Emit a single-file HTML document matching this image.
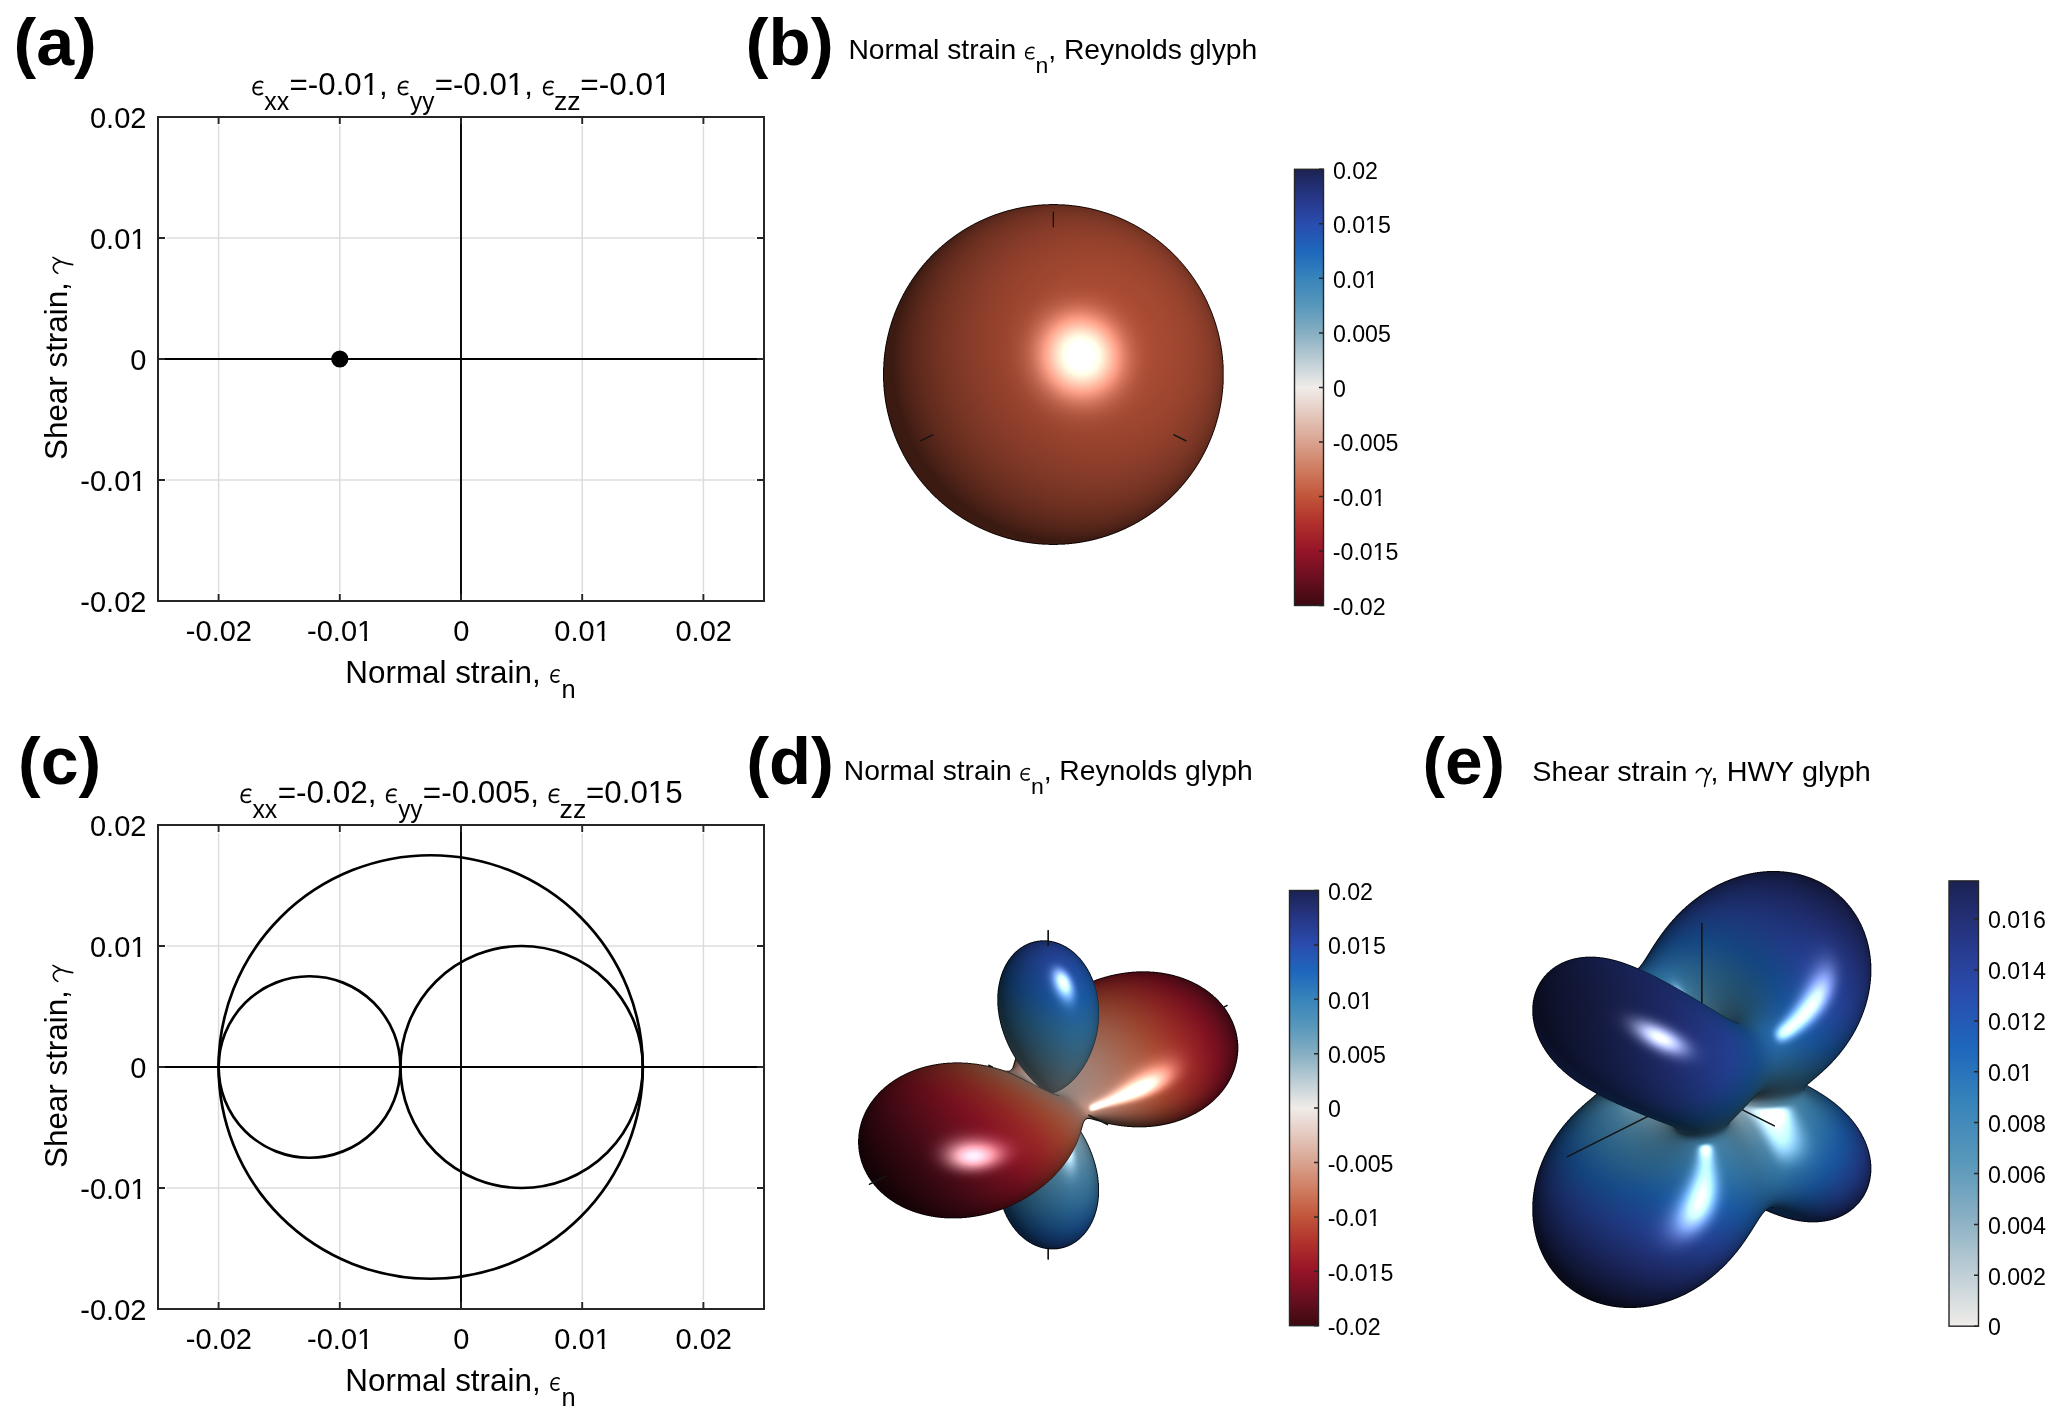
<!DOCTYPE html>
<html><head><meta charset="utf-8"><title>Mohr circles and strain glyphs</title>
<style>
html,body{margin:0;padding:0;background:#fff;}
body{width:2067px;height:1424px;position:relative;font-family:"Liberation Sans",sans-serif;}
svg.main{position:absolute;left:0;top:0;will-change:transform;}
canvas{position:absolute;}
.gr{stroke:#dcdcdc;stroke-width:1.5;fill:none}
.zl{stroke:#000;stroke-width:1.9;fill:none}
.mc{stroke:#000;stroke-width:2.7;fill:none}
.tk{stroke:#262626;stroke-width:1.9;fill:none}
.tk2{stroke:#262626;stroke-width:1.5;fill:none}
.bx{stroke:#262626;stroke-width:2;fill:none}
.cbx{stroke:#262626;stroke-width:1.4;fill:none}
text{font-family:"Liberation Sans",sans-serif;fill:#000;font-kerning:none}
.tl{font-size:29px}
.ep{font-family:"Liberation Serif",serif;font-style:italic}
.gl{fill:none;stroke:#000;vector-effect:non-scaling-stroke;stroke-linecap:round}
</style></head>
<body>
<svg class="main" width="2067" height="1424" viewBox="0 0 2067 1424">
<defs><linearGradient id="gb" x1="0" y1="0" x2="0" y2="1"><stop offset="0.0000" stop-color="#1b2252"/><stop offset="0.0625" stop-color="#263685"/><stop offset="0.1250" stop-color="#2a4cae"/><stop offset="0.1875" stop-color="#1e67bd"/><stop offset="0.2500" stop-color="#3884ba"/><stop offset="0.3125" stop-color="#5797bb"/><stop offset="0.3750" stop-color="#86aec2"/><stop offset="0.4375" stop-color="#bccdd5"/><stop offset="0.5000" stop-color="#f0ece9"/><stop offset="0.5625" stop-color="#e4c8bd"/><stop offset="0.6250" stop-color="#d9a390"/><stop offset="0.6875" stop-color="#cf7c60"/><stop offset="0.7500" stop-color="#c1553a"/><stop offset="0.8125" stop-color="#b02f2c"/><stop offset="0.8750" stop-color="#961427"/><stop offset="0.9375" stop-color="#6a0f20"/><stop offset="1.0000" stop-color="#3c0912"/></linearGradient><linearGradient id="ge" x1="0" y1="0" x2="0" y2="1"><stop offset="0.0000" stop-color="#1b2252"/><stop offset="0.1250" stop-color="#263685"/><stop offset="0.2500" stop-color="#2a4cae"/><stop offset="0.3750" stop-color="#1e67bd"/><stop offset="0.5000" stop-color="#3884ba"/><stop offset="0.6250" stop-color="#5797bb"/><stop offset="0.7500" stop-color="#86aec2"/><stop offset="0.8750" stop-color="#bccdd5"/><stop offset="1.0000" stop-color="#f0ece9"/></linearGradient></defs>
<rect width="2067" height="1424" fill="#fff"/>
<text x="13.51" y="65.00" font-size="67.5" font-weight="bold" textLength="83.29" lengthAdjust="spacingAndGlyphs">(a)</text>
<text x="745.56" y="64.80" font-size="67.5" font-weight="bold" textLength="88.18" lengthAdjust="spacingAndGlyphs">(b)</text>
<text x="18.11" y="784.00" font-size="67.5" font-weight="bold" textLength="83.18" lengthAdjust="spacingAndGlyphs">(c)</text>
<text x="746.17" y="784.00" font-size="67.5" font-weight="bold" textLength="87.85" lengthAdjust="spacingAndGlyphs">(d)</text>
<text x="1422.43" y="784.00" font-size="67.5" font-weight="bold" textLength="82.63" lengthAdjust="spacingAndGlyphs">(e)</text>
<line x1="218.6" y1="125.5" x2="218.6" y2="592.5" class="gr"/>
<line x1="339.8" y1="125.5" x2="339.8" y2="592.5" class="gr"/>
<line x1="582.2" y1="125.5" x2="582.2" y2="592.5" class="gr"/>
<line x1="703.4" y1="125.5" x2="703.4" y2="592.5" class="gr"/>
<line x1="166.5" y1="480.0" x2="755.5" y2="480.0" class="gr"/>
<line x1="166.5" y1="238.0" x2="755.5" y2="238.0" class="gr"/>
<line x1="158" y1="359.0" x2="764" y2="359.0" class="zl"/>
<line x1="461.0" y1="117" x2="461.0" y2="601" class="zl"/>
<circle cx="339.8" cy="359.0" r="8.6" fill="#000"/>
<path d="M218.6 601v-7M218.6 117v7M158 601.0h7M764 601.0h-7M339.8 601v-7M339.8 117v7M158 480.0h7M764 480.0h-7M461.0 601v-7M461.0 117v7M158 359.0h7M764 359.0h-7M582.2 601v-7M582.2 117v7M158 238.0h7M764 238.0h-7M703.4 601v-7M703.4 117v7M158 117.0h7M764 117.0h-7" class="tk"/>
<rect x="158" y="117" width="606" height="484" class="bx"/>
<text x="89.96" y="128.20" font-size="29">0.02</text>
<text x="89.96" y="249.20" font-size="29">0.01</text><rect x="131.83" y="245.38" width="5.62" height="4.53" fill="#fff"/><rect x="140.24" y="245.38" width="5.40" height="4.53" fill="#fff"/>
<text x="130.27" y="370.20" font-size="29">0</text>
<text x="80.30" y="491.20" font-size="29">-0.01</text><rect x="131.83" y="487.38" width="5.62" height="4.53" fill="#fff"/><rect x="140.24" y="487.38" width="5.40" height="4.53" fill="#fff"/>
<text x="80.30" y="612.20" font-size="29">-0.02</text>
<text x="185.85" y="641.10" font-size="29">-0.02</text>
<text x="307.05" y="641.10" font-size="29">-0.01</text><rect x="358.58" y="637.28" width="5.62" height="4.53" fill="#fff"/><rect x="366.99" y="637.28" width="5.40" height="4.53" fill="#fff"/>
<text x="453.24" y="641.10" font-size="29">0</text>
<text x="554.28" y="641.10" font-size="29">0.01</text><rect x="596.15" y="637.28" width="5.62" height="4.53" fill="#fff"/><rect x="604.56" y="637.28" width="5.40" height="4.53" fill="#fff"/>
<text x="675.48" y="641.10" font-size="29">0.02</text>
<text x="345.33" y="682.70" font-size="31.5" textLength="195.29" lengthAdjust="spacingAndGlyphs">Normal strain,</text>
<path d="M0.97,0.07 C0.78,-0.04 0.12,-0.02 0.03,0.5 C-0.03,0.92 0.5,1.06 0.95,0.87 M0.19,0.46 L0.85,0.46" transform="translate(550.80 669.70) scale(8.60 13.00)" class="gl" style="stroke-width:1.6px"/>
<text x="561.51" y="697.60" font-size="25" textLength="14.14" lengthAdjust="spacingAndGlyphs">n</text>
<g transform="translate(66.5 359) rotate(-90)"><text x="-100.92" y="0.00" font-size="31.5" textLength="177.74" lengthAdjust="spacingAndGlyphs">Shear strain,</text><path d="M0.013,0.246 C0.115,0.082 0.256,0.016 0.385,0.022 C0.577,0.033 0.692,0.191 0.731,0.399 M0.994,0.005 L0.744,0.383 C0.660,0.546 0.590,0.765 0.551,1.0" transform="translate(85.40 -13.60) scale(16.30 19.80)" class="gl" style="stroke-width:1.6px"/></g>
<line x1="218.6" y1="833.5" x2="218.6" y2="1300.5" class="gr"/>
<line x1="339.8" y1="833.5" x2="339.8" y2="1300.5" class="gr"/>
<line x1="582.2" y1="833.5" x2="582.2" y2="1300.5" class="gr"/>
<line x1="703.4" y1="833.5" x2="703.4" y2="1300.5" class="gr"/>
<line x1="166.5" y1="1188.0" x2="755.5" y2="1188.0" class="gr"/>
<line x1="166.5" y1="946.0" x2="755.5" y2="946.0" class="gr"/>
<line x1="158" y1="1067.0" x2="764" y2="1067.0" class="zl"/>
<line x1="461.0" y1="825" x2="461.0" y2="1309" class="zl"/>
<ellipse cx="430.70" cy="1067.00" rx="212.10" ry="211.75" class="mc"/>
<ellipse cx="309.50" cy="1067.00" rx="90.90" ry="90.75" class="mc"/>
<ellipse cx="521.60" cy="1067.00" rx="121.20" ry="121.00" class="mc"/>
<path d="M218.6 1309v-7M218.6 825v7M158 1309.0h7M764 1309.0h-7M339.8 1309v-7M339.8 825v7M158 1188.0h7M764 1188.0h-7M461.0 1309v-7M461.0 825v7M158 1067.0h7M764 1067.0h-7M582.2 1309v-7M582.2 825v7M158 946.0h7M764 946.0h-7M703.4 1309v-7M703.4 825v7M158 825.0h7M764 825.0h-7" class="tk"/>
<rect x="158" y="825" width="606" height="484" class="bx"/>
<text x="89.96" y="836.20" font-size="29">0.02</text>
<text x="89.96" y="957.20" font-size="29">0.01</text><rect x="131.83" y="953.38" width="5.62" height="4.53" fill="#fff"/><rect x="140.24" y="953.38" width="5.40" height="4.53" fill="#fff"/>
<text x="130.27" y="1078.20" font-size="29">0</text>
<text x="80.30" y="1199.20" font-size="29">-0.01</text><rect x="131.83" y="1195.38" width="5.62" height="4.53" fill="#fff"/><rect x="140.24" y="1195.38" width="5.40" height="4.53" fill="#fff"/>
<text x="80.30" y="1320.20" font-size="29">-0.02</text>
<text x="185.85" y="1349.10" font-size="29">-0.02</text>
<text x="307.05" y="1349.10" font-size="29">-0.01</text><rect x="358.58" y="1345.28" width="5.62" height="4.53" fill="#fff"/><rect x="366.99" y="1345.28" width="5.40" height="4.53" fill="#fff"/>
<text x="453.24" y="1349.10" font-size="29">0</text>
<text x="554.28" y="1349.10" font-size="29">0.01</text><rect x="596.15" y="1345.28" width="5.62" height="4.53" fill="#fff"/><rect x="604.56" y="1345.28" width="5.40" height="4.53" fill="#fff"/>
<text x="675.48" y="1349.10" font-size="29">0.02</text>
<text x="345.33" y="1390.70" font-size="31.5" textLength="195.29" lengthAdjust="spacingAndGlyphs">Normal strain,</text>
<path d="M0.97,0.07 C0.78,-0.04 0.12,-0.02 0.03,0.5 C-0.03,0.92 0.5,1.06 0.95,0.87 M0.19,0.46 L0.85,0.46" transform="translate(550.80 1377.70) scale(8.60 13.00)" class="gl" style="stroke-width:1.6px"/>
<text x="561.51" y="1405.60" font-size="25" textLength="14.14" lengthAdjust="spacingAndGlyphs">n</text>
<g transform="translate(66.5 1067) rotate(-90)"><text x="-100.92" y="0.00" font-size="31.5" textLength="177.74" lengthAdjust="spacingAndGlyphs">Shear strain,</text><path d="M0.013,0.246 C0.115,0.082 0.256,0.016 0.385,0.022 C0.577,0.033 0.692,0.191 0.731,0.399 M0.994,0.005 L0.744,0.383 C0.660,0.546 0.590,0.765 0.551,1.0" transform="translate(85.40 -13.60) scale(16.30 19.80)" class="gl" style="stroke-width:1.6px"/></g>
<path d="M0.97,0.07 C0.78,-0.04 0.12,-0.02 0.03,0.5 C-0.03,0.92 0.5,1.06 0.95,0.87 M0.19,0.46 L0.85,0.46" transform="translate(253.00 81.20) scale(9.90 14.00)" class="gl" style="stroke-width:1.85px"/>
<text x="264.32" y="110.10" font-size="25" textLength="24.85" lengthAdjust="spacingAndGlyphs">xx</text>
<text x="289.57" y="95.00" font-size="31.5" textLength="98.24" lengthAdjust="spacingAndGlyphs">=-0.01,</text><rect x="363.41" y="90.85" width="6.06" height="4.92" fill="#fff"/><rect x="372.48" y="90.85" width="5.82" height="4.92" fill="#fff"/>
<path d="M0.97,0.07 C0.78,-0.04 0.12,-0.02 0.03,0.5 C-0.03,0.92 0.5,1.06 0.95,0.87 M0.19,0.46 L0.85,0.46" transform="translate(398.30 81.20) scale(9.90 14.00)" class="gl" style="stroke-width:1.85px"/>
<text x="409.94" y="110.10" font-size="25" textLength="24.41" lengthAdjust="spacingAndGlyphs">yy</text>
<text x="434.67" y="95.00" font-size="31.5" textLength="98.24" lengthAdjust="spacingAndGlyphs">=-0.01,</text><rect x="508.51" y="90.85" width="6.06" height="4.92" fill="#fff"/><rect x="517.58" y="90.85" width="5.82" height="4.92" fill="#fff"/>
<path d="M0.97,0.07 C0.78,-0.04 0.12,-0.02 0.03,0.5 C-0.03,0.92 0.5,1.06 0.95,0.87 M0.19,0.46 L0.85,0.46" transform="translate(543.50 81.20) scale(9.90 14.00)" class="gl" style="stroke-width:1.85px"/>
<text x="553.92" y="110.10" font-size="25" textLength="26.71" lengthAdjust="spacingAndGlyphs">zz</text>
<text x="580.36" y="95.00" font-size="31.5" textLength="90.37" lengthAdjust="spacingAndGlyphs">=-0.01</text><rect x="654.87" y="90.85" width="6.12" height="4.92" fill="#fff"/><rect x="664.02" y="90.85" width="5.87" height="4.92" fill="#fff"/>
<path d="M0.97,0.07 C0.78,-0.04 0.12,-0.02 0.03,0.5 C-0.03,0.92 0.5,1.06 0.95,0.87 M0.19,0.46 L0.85,0.46" transform="translate(241.10 789.00) scale(9.90 14.00)" class="gl" style="stroke-width:1.85px"/>
<text x="252.42" y="817.90" font-size="25" textLength="24.85" lengthAdjust="spacingAndGlyphs">xx</text>
<text x="277.66" y="802.80" font-size="31.5" textLength="98.97" lengthAdjust="spacingAndGlyphs">=-0.02,</text>
<path d="M0.97,0.07 C0.78,-0.04 0.12,-0.02 0.03,0.5 C-0.03,0.92 0.5,1.06 0.95,0.87 M0.19,0.46 L0.85,0.46" transform="translate(386.50 789.00) scale(9.90 14.00)" class="gl" style="stroke-width:1.85px"/>
<text x="398.14" y="817.90" font-size="25" textLength="24.41" lengthAdjust="spacingAndGlyphs">yy</text>
<text x="422.87" y="802.80" font-size="31.5" textLength="116.16" lengthAdjust="spacingAndGlyphs">=-0.005,</text>
<path d="M0.97,0.07 C0.78,-0.04 0.12,-0.02 0.03,0.5 C-0.03,0.92 0.5,1.06 0.95,0.87 M0.19,0.46 L0.85,0.46" transform="translate(549.20 789.00) scale(9.90 14.00)" class="gl" style="stroke-width:1.85px"/>
<text x="559.62" y="817.90" font-size="25" textLength="26.71" lengthAdjust="spacingAndGlyphs">zz</text>
<text x="586.07" y="802.80" font-size="31.5" textLength="96.64" lengthAdjust="spacingAndGlyphs">=0.015</text><rect x="649.57" y="798.65" width="6.07" height="4.92" fill="#fff"/><rect x="658.65" y="798.65" width="5.83" height="4.92" fill="#fff"/>
<text x="848.38" y="59.10" font-size="28.5" textLength="167.95" lengthAdjust="spacingAndGlyphs">Normal strain</text>
<path d="M0.97,0.07 C0.78,-0.04 0.12,-0.02 0.03,0.5 C-0.03,0.92 0.5,1.06 0.95,0.87 M0.19,0.46 L0.85,0.46" transform="translate(1025.40 47.10) scale(9.00 12.30)" class="gl" style="stroke-width:1.45px"/>
<text x="1035.57" y="72.70" font-size="22" textLength="12.83" lengthAdjust="spacingAndGlyphs">n</text>
<text x="1048.34" y="59.10" font-size="28.5">,</text>
<text x="1063.88" y="59.10" font-size="28.5" textLength="193.36" lengthAdjust="spacingAndGlyphs">Reynolds glyph</text>
<text x="843.78" y="780.30" font-size="28.5" textLength="167.95" lengthAdjust="spacingAndGlyphs">Normal strain</text>
<path d="M0.97,0.07 C0.78,-0.04 0.12,-0.02 0.03,0.5 C-0.03,0.92 0.5,1.06 0.95,0.87 M0.19,0.46 L0.85,0.46" transform="translate(1020.80 768.30) scale(9.00 12.30)" class="gl" style="stroke-width:1.45px"/>
<text x="1030.97" y="793.90" font-size="22" textLength="12.83" lengthAdjust="spacingAndGlyphs">n</text>
<text x="1043.74" y="780.30" font-size="28.5">,</text>
<text x="1059.28" y="780.30" font-size="28.5" textLength="193.36" lengthAdjust="spacingAndGlyphs">Reynolds glyph</text>
<text x="1532.39" y="780.50" font-size="28.5" textLength="155.18" lengthAdjust="spacingAndGlyphs">Shear strain</text>
<path d="M0.013,0.246 C0.115,0.082 0.256,0.016 0.385,0.022 C0.577,0.033 0.692,0.191 0.731,0.399 M0.994,0.005 L0.744,0.383 C0.660,0.546 0.590,0.765 0.551,1.0" transform="translate(1696.10 768.20) scale(15.40 18.30)" class="gl" style="stroke-width:1.6px"/>
<text x="1710.54" y="780.50" font-size="28.5">,</text>
<text x="1726.84" y="780.50" font-size="28.5" textLength="143.93" lengthAdjust="spacingAndGlyphs">HWY glyph</text>
<rect x="1294.5" y="169.3" width="29.0" height="436.2" fill="url(#gb)"/>
<path d="M1323.5 169.3h-4.5M1323.5 223.8h-4.5M1323.5 278.3h-4.5M1323.5 332.9h-4.5M1323.5 387.4h-4.5M1323.5 441.9h-4.5M1323.5 496.4h-4.5M1323.5 551.0h-4.5M1323.5 605.5h-4.5" class="tk2"/>
<rect x="1294.5" y="169.3" width="29.0" height="436.2" class="cbx"/>
<text x="1332.89" y="178.50" font-size="23.2">0.02</text>
<text x="1332.89" y="233.02" font-size="23.2">0.015</text><rect x="1366.39" y="229.97" width="4.50" height="3.62" fill="#fff"/><rect x="1373.12" y="229.97" width="4.32" height="3.62" fill="#fff"/>
<text x="1332.89" y="287.55" font-size="23.2">0.01</text><rect x="1366.39" y="284.49" width="4.50" height="3.62" fill="#fff"/><rect x="1373.12" y="284.49" width="4.32" height="3.62" fill="#fff"/>
<text x="1332.89" y="342.07" font-size="23.2">0.005</text>
<text x="1332.89" y="396.60" font-size="23.2">0</text>
<text x="1332.77" y="451.12" font-size="23.2">-0.005</text>
<text x="1332.77" y="505.65" font-size="23.2">-0.01</text><rect x="1373.99" y="502.59" width="4.50" height="3.62" fill="#fff"/><rect x="1380.72" y="502.59" width="4.32" height="3.62" fill="#fff"/>
<text x="1332.77" y="560.17" font-size="23.2">-0.015</text><rect x="1373.99" y="557.12" width="4.50" height="3.62" fill="#fff"/><rect x="1380.72" y="557.12" width="4.32" height="3.62" fill="#fff"/>
<text x="1332.77" y="614.70" font-size="23.2">-0.02</text>
<rect x="1289.5" y="890.5" width="29.0" height="435.20000000000005" fill="url(#gb)"/>
<path d="M1318.5 890.5h-4.5M1318.5 944.9h-4.5M1318.5 999.3h-4.5M1318.5 1053.7h-4.5M1318.5 1108.1h-4.5M1318.5 1162.5h-4.5M1318.5 1216.9h-4.5M1318.5 1271.3h-4.5M1318.5 1325.7h-4.5" class="tk2"/>
<rect x="1289.5" y="890.5" width="29.0" height="435.20000000000005" class="cbx"/>
<text x="1327.89" y="899.70" font-size="23.2">0.02</text>
<text x="1327.89" y="954.10" font-size="23.2">0.015</text><rect x="1361.39" y="951.04" width="4.50" height="3.62" fill="#fff"/><rect x="1368.12" y="951.04" width="4.32" height="3.62" fill="#fff"/>
<text x="1327.89" y="1008.50" font-size="23.2">0.01</text><rect x="1361.39" y="1005.44" width="4.50" height="3.62" fill="#fff"/><rect x="1368.12" y="1005.44" width="4.32" height="3.62" fill="#fff"/>
<text x="1327.89" y="1062.90" font-size="23.2">0.005</text>
<text x="1327.89" y="1117.30" font-size="23.2">0</text>
<text x="1327.77" y="1171.70" font-size="23.2">-0.005</text>
<text x="1327.77" y="1226.10" font-size="23.2">-0.01</text><rect x="1368.99" y="1223.04" width="4.50" height="3.62" fill="#fff"/><rect x="1375.72" y="1223.04" width="4.32" height="3.62" fill="#fff"/>
<text x="1327.77" y="1280.50" font-size="23.2">-0.015</text><rect x="1368.99" y="1277.44" width="4.50" height="3.62" fill="#fff"/><rect x="1375.72" y="1277.44" width="4.32" height="3.62" fill="#fff"/>
<text x="1327.77" y="1334.90" font-size="23.2">-0.02</text>
<rect x="1949" y="880.9" width="29.5" height="445.30000000000007" fill="url(#ge)"/>
<path d="M1978.5 919.1h-4.5M1978.5 970.0h-4.5M1978.5 1020.9h-4.5M1978.5 1071.7h-4.5M1978.5 1122.6h-4.5M1978.5 1173.5h-4.5M1978.5 1224.4h-4.5M1978.5 1275.3h-4.5M1978.5 1326.2h-4.5" class="tk2"/>
<rect x="1949" y="880.9" width="29.5" height="445.30000000000007" class="cbx"/>
<text x="1987.89" y="928.27" font-size="23.2">0.016</text><rect x="2021.39" y="925.21" width="4.50" height="3.62" fill="#fff"/><rect x="2028.12" y="925.21" width="4.32" height="3.62" fill="#fff"/>
<text x="1987.89" y="979.16" font-size="23.2">0.014</text><rect x="2021.39" y="976.10" width="4.50" height="3.62" fill="#fff"/><rect x="2028.12" y="976.10" width="4.32" height="3.62" fill="#fff"/>
<text x="1987.89" y="1030.05" font-size="23.2">0.012</text><rect x="2021.39" y="1026.99" width="4.50" height="3.62" fill="#fff"/><rect x="2028.12" y="1026.99" width="4.32" height="3.62" fill="#fff"/>
<text x="1987.89" y="1080.94" font-size="23.2">0.01</text><rect x="2021.39" y="1077.88" width="4.50" height="3.62" fill="#fff"/><rect x="2028.12" y="1077.88" width="4.32" height="3.62" fill="#fff"/>
<text x="1987.89" y="1131.83" font-size="23.2">0.008</text>
<text x="1987.89" y="1182.73" font-size="23.2">0.006</text>
<text x="1987.89" y="1233.62" font-size="23.2">0.004</text>
<text x="1987.89" y="1284.51" font-size="23.2">0.002</text>
<text x="1987.89" y="1335.40" font-size="23.2">0</text>
<g id="fallback">
<defs>
<radialGradient id="fs" cx="0.58" cy="0.45" r="0.62" fx="0.58" fy="0.45"><stop offset="0" stop-color="#fff8f0"/><stop offset="0.1" stop-color="#f3b8a0"/><stop offset="0.22" stop-color="#aa5036"/><stop offset="0.6" stop-color="#8c3e2a"/><stop offset="1" stop-color="#3e1a10"/></radialGradient>
<radialGradient id="fr" cx="0.55" cy="0.55" r="0.6"><stop offset="0" stop-color="#e8b0b8"/><stop offset="0.25" stop-color="#8e1a26"/><stop offset="1" stop-color="#2a060c"/></radialGradient>
<radialGradient id="fr2" cx="0.3" cy="0.6" r="0.7"><stop offset="0" stop-color="#f0d8d0"/><stop offset="0.3" stop-color="#b0604a"/><stop offset="0.7" stop-color="#8a1a24"/><stop offset="1" stop-color="#3a0810"/></radialGradient>
<radialGradient id="fbl" cx="0.6" cy="0.35" r="0.65"><stop offset="0" stop-color="#c8f0ff"/><stop offset="0.15" stop-color="#2a64a8"/><stop offset="1" stop-color="#16305a"/></radialGradient>
<radialGradient id="fnv" cx="0.5" cy="0.45" r="0.6"><stop offset="0" stop-color="#c0c8f0"/><stop offset="0.15" stop-color="#24337a"/><stop offset="1" stop-color="#0e1436"/></radialGradient>
<radialGradient id="fnb" cx="0.55" cy="0.45" r="0.6"><stop offset="0" stop-color="#4a8ab8"/><stop offset="0.5" stop-color="#22489a"/><stop offset="1" stop-color="#101c48"/></radialGradient>
</defs>
<circle cx="1053.4" cy="374.5" r="170.4" fill="url(#fs)"/>
<ellipse cx="1050" cy="1185" rx="48" ry="64" fill="url(#fbl)"/>
<ellipse cx="1140" cy="1050" rx="100" ry="76" transform="rotate(-18 1140 1050)" fill="url(#fr2)"/>
<ellipse cx="1048" cy="1016" rx="50" ry="76" transform="rotate(-6 1048 1016)" fill="url(#fbl)"/>
<ellipse cx="962" cy="1140" rx="106" ry="76" transform="rotate(-18 962 1140)" fill="url(#fr)"/>
<ellipse cx="1770" cy="975" rx="100" ry="108" fill="url(#fnb)"/>
<ellipse cx="1790" cy="1160" rx="80" ry="62" fill="url(#fnb)"/>
<ellipse cx="1640" cy="1205" rx="108" ry="104" fill="url(#fnb)"/>
<ellipse cx="1645" cy="1052" rx="122" ry="60" transform="rotate(28 1645 1052)" fill="url(#fnv)"/>
</g>
</svg>
<canvas id="cvb" style="left:870px;top:190px;width:370px;height:370px"></canvas>
<canvas id="cvd" style="left:845px;top:920px;width:410px;height:350px"></canvas>
<canvas id="cve" style="left:1520px;top:860px;width:365px;height:460px"></canvas>
<script>
(function(){
var STOPS=[[0,[60,9,18]],[0.0625,[106,15,32]],[0.125,[150,20,39]],[0.1875,[176,47,44]],[0.25,[193,85,58]],[0.3125,[207,124,96]],[0.375,[217,163,144]],[0.4375,[228,200,189]],[0.5,[240,236,233]],[0.5625,[188,205,213]],[0.625,[134,174,194]],[0.6875,[87,151,187]],[0.75,[56,132,186]],[0.8125,[30,103,189]],[0.875,[42,76,174]],[0.9375,[38,54,133]],[1,[27,34,82]]];
function cmap(t){if(t<0)t=0;if(t>1)t=1;for(var i=1;i<STOPS.length;i++){if(t<=STOPS[i][0]){var a=STOPS[i-1],b=STOPS[i],f=(t-a[0])/(b[0]-a[0]);return [(a[1][0]+f*(b[1][0]-a[1][0]))/255,(a[1][1]+f*(b[1][1]-a[1][1]))/255,(a[1][2]+f*(b[1][2]-a[1][2]))/255];}}return [STOPS[16][1][0]/255,STOPS[16][1][1]/255,STOPS[16][1][2]/255];}
var az=-45*Math.PI/180, el=30*Math.PI/180;
var R=[Math.cos(az),Math.sin(az),0], U=[-Math.sin(el)*Math.sin(az),Math.sin(el)*Math.cos(az),Math.cos(el)], C=[Math.sin(az)*Math.cos(el),-Math.cos(az)*Math.cos(el),Math.sin(el)];
function dot(a,b){return a[0]*b[0]+a[1]*b[1]+a[2]*b[2];}
function norm(a){var l=Math.sqrt(dot(a,a))||1;return [a[0]/l,a[1]/l,a[2]/l];}
function glyph(o){
  var cv=document.getElementById(o.id); if(!cv||!cv.getContext)return;
  var W=o.w,H=o.h,SS=3,WS=W*SS,HS=H*SS;
  cv.width=W;cv.height=H;
  var ctx=cv.getContext('2d');
  var zb=new Float32Array(WS*HS); zb.fill(-1e30);
  var cb=new Float32Array(WS*HS*3);
  var lam=o.lam, L=norm(o.light), ka=0.3, kd=0.6, ks=0.9, sp=10;
  var NT=o.nt||200, NP=o.np||400;
  var nv=(NT+1)*(NP+1);
  var CR=new Float32Array(nv),CG=new Float32Array(nv),CB=new Float32Array(nv),X=new Float32Array(nv),Y=new Float32Array(nv),Z=new Float32Array(nv),NX=new Float32Array(nv),NY=new Float32Array(nv),NZ=new Float32Array(nv),VV=new Float32Array(nv);
  var ox=(o.ox-o.left)*SS, oy=(o.oy-o.top)*SS, s=o.s*SS;
  for(var i=0;i<=NT;i++){var th=Math.PI*i/NT, st=Math.sin(th), ct=Math.cos(th);
    for(var j=0;j<=NP;j++){var ph=2*Math.PI*j/NP;
      var n=[st*Math.cos(ph),st*Math.sin(ph),ct];
      var ln=[lam[0]*n[0],lam[1]*n[1],lam[2]*n[2]];
      var v=dot(n,ln), r, gr, val;
      if(o.type==='rey'){ r=Math.abs(v); var sg=v<0?-1:1; gr=[2*sg*ln[0],2*sg*ln[1],2*sg*ln[2]]; val=v; }
      else { var q=lam[0]*ln[0]*n[0]+lam[1]*ln[1]*n[1]+lam[2]*ln[2]*n[2]; var g2=q-v*v; if(g2<0)g2=0; r=Math.sqrt(g2); var gg=r>1e-9?r:1e-9;
        gr=[(lam[0]*ln[0]-2*v*ln[0])/gg,(lam[1]*ln[1]-2*v*ln[1])/gg,(lam[2]*ln[2]-2*v*ln[2])/gg]; val=r; }
      // tangential part of gradient
      var gd=dot(gr,n); var gt=[gr[0]-gd*n[0],gr[1]-gd*n[1],gr[2]-gd*n[2]];
      var rr=r>1e-9?r:1e-9;
      var N=[n[0]-gt[0]/rr,n[1]-gt[1]/rr,n[2]-gt[2]/rr];
      var p=[n[0]*r,n[1]*r,n[2]*r];
      var k=i*(NP+1)+j;
      X[k]=ox+s*dot(p,R); Y[k]=oy-s*dot(p,U); Z[k]=s*dot(p,C);
      var Nv=norm([dot(N,R),dot(N,U),dot(N,C)]);
      NX[k]=Nv[0];NY[k]=Nv[1];NZ[k]=Nv[2]; VV[k]=val;
      if(o.gouraud){var vx=Nv[0],vy=Nv[1],vz=Nv[2]; if(vz<0){vx=-vx;vy=-vy;vz=-vz;}
        var col0=cmap((val-o.vmin)/(o.vmax-o.vmin)); var nd=vx*L[0]+vy*L[1]+vz*L[2]; var df=nd>0?nd:0; var sp0=0;
        if(nd>0){var rz0=2*nd*vz-L[2]; if(rz0>0)sp0=Math.pow(rz0,sp);} var ff=ka+kd*df, ss0=ks*sp0;
        CR[k]=col0[0]*ff+ss0; CG[k]=col0[1]*ff+ss0; CB[k]=col0[2]*ff+ss0;}
    }}
  function tri(a,b,c){
    var x0=X[a],y0=Y[a],x1=X[b],y1=Y[b],x2=X[c],y2=Y[c];
    var area=(x1-x0)*(y2-y0)-(x2-x0)*(y1-y0); if(Math.abs(area)<1e-12)return;
    var minx=Math.max(0,Math.ceil(Math.min(x0,x1,x2)-0.5)),maxx=Math.min(WS-1,Math.floor(Math.max(x0,x1,x2)-0.5));
    var miny=Math.max(0,Math.ceil(Math.min(y0,y1,y2)-0.5)),maxy=Math.min(HS-1,Math.floor(Math.max(y0,y1,y2)-0.5));
    for(var py=miny;py<=maxy;py++){var cy=py+0.5;
      for(var px=minx;px<=maxx;px++){var cx=px+0.5;
        var w0=((x1-cx)*(y2-cy)-(x2-cx)*(y1-cy))/area, w1=((x2-cx)*(y0-cy)-(x0-cx)*(y2-cy))/area, w2=1-w0-w1;
        if(w0<-1e-6||w1<-1e-6||w2<-1e-6)continue;
        var z=w0*Z[a]+w1*Z[b]+w2*Z[c]; var id=py*WS+px;
        if(z<=zb[id])continue; zb[id]=z;
        if(o.gouraud){cb[id*3]=w0*CR[a]+w1*CR[b]+w2*CR[c];cb[id*3+1]=w0*CG[a]+w1*CG[b]+w2*CG[c];cb[id*3+2]=w0*CB[a]+w1*CB[b]+w2*CB[c];continue;}
        var nx=w0*NX[a]+w1*NX[b]+w2*NX[c], ny=w0*NY[a]+w1*NY[b]+w2*NY[c], nz=w0*NZ[a]+w1*NZ[b]+w2*NZ[c];
        var l=Math.sqrt(nx*nx+ny*ny+nz*nz)||1; nx/=l;ny/=l;nz/=l;
        if(nz<0){nx=-nx;ny=-ny;nz=-nz;}
        var val=w0*VV[a]+w1*VV[b]+w2*VV[c];
        var col=cmap((val-o.vmin)/(o.vmax-o.vmin));
        var ndl=nx*L[0]+ny*L[1]+nz*L[2]; var dif=ndl>0?ndl:0;
        var spec=0; if(ndl>0){var rz=2*ndl*nz-L[2]; if(rz>0)spec=Math.pow(rz,sp);}
        var f=ka+kd*dif, sv=ks*spec;
        cb[id*3]=col[0]*f+sv; cb[id*3+1]=col[1]*f+sv; cb[id*3+2]=col[2]*f+sv;
      }}
  }
  for(var i=0;i<NT;i++)for(var j=0;j<NP;j++){var a=i*(NP+1)+j,b=a+1,c=a+NP+1,d=c+1; tri(a,c,b); tri(b,c,d);}
  // axis lines
  var lb=new Uint8Array(WS*HS);
  var lw=(o.lw||1.5)*SS/2;
  (o.axes||[]).forEach(function(ax){
    var d=ax.d, Lh=ax.len;
    var p0=[-d[0]*Lh,-d[1]*Lh,-d[2]*Lh], p1=[d[0]*Lh,d[1]*Lh,d[2]*Lh];
    var sx0=ox+s*dot(p0,R), sy0=oy-s*dot(p0,U), sz0=s*dot(p0,C), sx1=ox+s*dot(p1,R), sy1=oy-s*dot(p1,U), sz1=s*dot(p1,C);
    var len=Math.hypot(sx1-sx0,sy1-sy0), ns=Math.ceil(len*2);
    for(var t=0;t<=ns;t++){var f=t/ns, x=sx0+f*(sx1-sx0), y=sy0+f*(sy1-sy0), z=sz0+f*(sz1-sz0);
      var cx=Math.floor(x), cy=Math.floor(y); if(cx<0||cy<0||cx>=WS||cy>=HS)continue;
      if(z < zb[cy*WS+cx]-0.5*SS) continue;
      var rr=Math.ceil(lw);
      for(var yy=cy-rr;yy<=cy+rr;yy++)for(var xx=cx-rr;xx<=cx+rr;xx++){ if(xx<0||yy<0||xx>=WS||yy>=HS)continue;
        if((xx+0.5-x)*(xx+0.5-x)+(yy+0.5-y)*(yy+0.5-y)<=lw*lw){ if(z>=zb[yy*WS+xx]-0.5*SS) lb[yy*WS+xx]=1; }}
    }
  });
  // silhouette darkening: 1 = outer silhouette (next to background), 2 = occluding contour
  var rim=new Uint8Array(WS*HS), RR=o.rimw||3, RR2=o.rimw2||2, DZ=(o.rimdz||12)*SS;
  for(var y=0;y<HS;y++)for(var x=0;x<WS;x++){var id=y*WS+x; var z=zb[id]; if(z<-1e29)continue;
    var e=0;
    for(var k=1;k<=RR&&!e;k++){
      var a=(x-k>=0)?zb[id-k]:-1e30, b=(x+k<WS)?zb[id+k]:-1e30, c=(y-k>=0)?zb[id-k*WS]:-1e30, d=(y+k<HS)?zb[id+k*WS]:-1e30;
      if(a<-1e29||b<-1e29||c<-1e29||d<-1e29)e=1;
      else if(k<=RR2&&(a<z-DZ||b<z-DZ||c<z-DZ||d<z-DZ))e=2;}
    rim[id]=e;}
  var img=ctx.createImageData(W,H), D=img.data;
  for(var y=0;y<H;y++)for(var x=0;x<W;x++){var r=0,g=0,b=0,cnt=0;
    for(var sy=0;sy<SS;sy++)for(var sx=0;sx<SS;sx++){var id=(y*SS+sy)*WS+x*SS+sx;
      if(lb[id]){r+=0.08;g+=0.08;b+=0.08;cnt++;}
      else if(zb[id]>-1e29){var m=rim[id]===1?(o.rimf||0.25):(rim[id]===2?(o.rimf2||0.6):1); r+=m*Math.min(1,cb[id*3]);g+=m*Math.min(1,cb[id*3+1]);b+=m*Math.min(1,cb[id*3+2]);cnt++;}}
    var k=(y*W+x)*4; if(cnt){D[k]=255*r/cnt;D[k+1]=255*g/cnt;D[k+2]=255*b/cnt;D[k+3]=255*cnt/(SS*SS);}}
  ctx.putImageData(img,0,0);
}
var LIGHT=[0.3195,0.2156,0.921];
try{
glyph({id:'cvb',left:870,top:190,w:370,h:370,ox:1053.4,oy:374.5,s:17040,lam:[-0.01,-0.01,-0.01],type:'rey',vmin:-0.02,vmax:0.02,light:LIGHT,
  axes:[{d:[1,0,0],len:0.011},{d:[0,1,0],len:0.011},{d:[0,0,1],len:0.011}]});
glyph({id:'cvd',left:845,top:920,w:410,h:350,ox:1048.2,oy:1094.9,s:11490,lam:[-0.02,-0.005,0.015],type:'rey',vmin:-0.02,vmax:0.02,light:LIGHT,
  axes:[{d:[1,0,0],len:0.022},{d:[0,1,0],len:0.0073},{d:[0,0,1],len:0.0165}]});
glyph({id:'cve',left:1520,top:860,w:365,h:460,ox:1701.8,oy:1089.5,s:13690,lam:[-0.02,-0.005,0.015],type:'hwy',vmin:-0.0175,vmax:0.0175,light:LIGHT,
  axes:[{d:[1,0,0],len:0.0139},{d:[0,1,0],len:0.0075},{d:[0,0,1],len:0.0140}]});
var fbk=document.getElementById('fallback'); if(fbk) fbk.setAttribute('display','none');
}catch(e){}
})();
</script>
</body></html>
